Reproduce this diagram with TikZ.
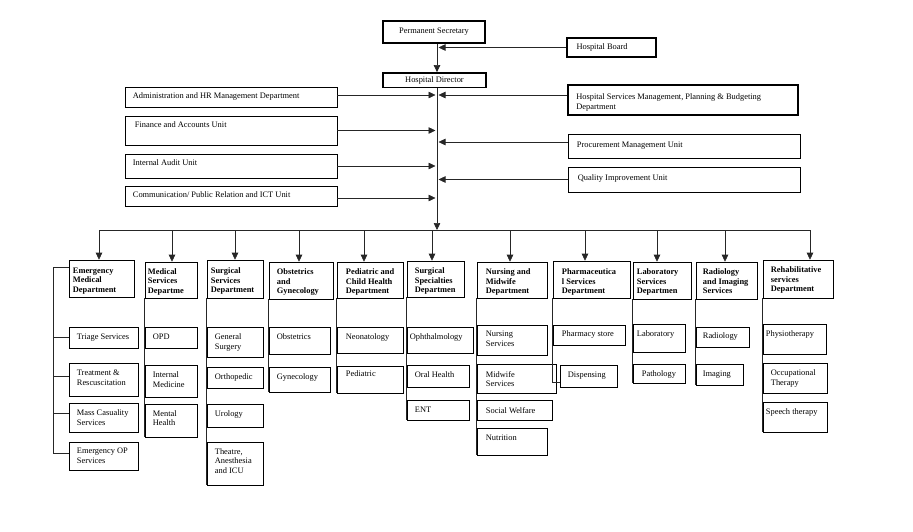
\documentclass[tikz,border=0pt]{standalone}
\usepackage{fontspec}
\setmainfont{Liberation Serif}
\usetikzlibrary{arrows.meta,fit}
\tikzset{
 box/.style={draw=black, line width=0.6pt, inner sep=0pt, fill=white},
 txt/.style={anchor=north west, inner sep=0pt, align=left, font=\fontsize{8.4}{9.8}\selectfont},
 btxt/.style={txt, font=\fontsize{8.4}{9.6}\selectfont\bfseries},
 conn/.style={line width=0.6pt, draw=black!85},
 arr/.style={conn, -{Triangle[length=7pt,width=6.5pt]}},
}
% #1 text style, #2 name, #3-#6 corners, #7 x pad, #8 y pad, #9 text
\newcommand\bx[9][txt]{%
 \node[box,fit={(#3,#4)(#5,#6)}] (#2) {};
 \node[#1] (#2-t) at ([xshift=#7pt,yshift=-#8pt]#2.north west) {#9};
}
\begin{document}
\begin{tikzpicture}[x=1pt,y=-1pt]
\fill[white] (0,0) rectangle (913,531);
\useasboundingbox (0,0) rectangle (913,531);

% top
\node[box, line width=2pt, fit={(383,21)(485,43)}] (ps) {};
\node[txt, anchor=center] (ps-t) at (ps.center) {Permanent Secretary};
\node[box, line width=1.8pt, fit={(383,73)(486,87.5)}] (hd) {};
\node[txt, anchor=center] (hd-t) at (hd.center) {Hospital Director};
\node[box, line width=1.4pt, fit={(567,38)(656,57)}] (hb) {};
\node[txt] (hb-t) at ([xshift=10pt,yshift=-6.2pt]hb.north west) {Hospital Board};
\node[box, line width=1.8pt, fit={(568,85)(798,115)}] (hsm) {};
\node[txt] (hsm-t) at ([xshift=9pt,yshift=-9.2pt]hsm.north west) {Hospital Services Management, Planning \& Budgeting\\Department};

\bx{adm}{125}{87}{337}{107}{8}{5.3}{Administration and HR Management Department}
\bx{fin}{125}{116}{337}{145}{10}{6.2}{Finance and Accounts Unit}
\bx{aud}{125}{154}{337}{178}{8}{6.2}{Internal Audit Unit}
\bx{com}{125}{186}{337}{206}{8}{6.2}{Communication/ Public Relation and ICT Unit}
\bx{pro}{568}{134}{800}{158}{9}{8.2}{Procurement Management Unit}
\bx{qua}{568}{167}{800}{192}{10}{8.2}{Quality Improvement Unit}

% departments
\bx[btxt]{em}{69}{260}{134}{297}{4}{7.8}{Emergency\\Medical\\Department}
\bx[btxt]{med}{145}{262}{197}{298}{3}{6.3}{Medical\\Services\\Departme}
\bx[btxt]{sur}{207}{260}{263}{298}{4}{7.8}{Surgical\\Services\\Department}
\bx[btxt]{obs}{269}{262}{333}{299}{8}{6.8}{Obstetrics\\and\\Gynecology}
\bx[btxt]{ped}{337}{262}{403}{298}{9}{6.8}{Pediatric and\\Child Health\\Department}
\bx[btxt]{ssp}{407}{261}{464}{297}{8}{6.8}{Surgical\\Specialties\\Departmen}
\bx[btxt]{nur}{477}{262}{547}{298}{9}{6.8}{Nursing and\\Midwife\\Department}
\bx[btxt]{pha}{553}{261}{630}{298}{9}{7.8}{Pharmaceutica\\l Services\\Department}
\bx[btxt]{lab}{633}{262}{691}{299}{4}{6.8}{Laboratory\\Services\\Departmen}
\bx[btxt]{rad}{696}{262}{757}{299}{7}{6.8}{Radiology\\and Imaging\\Services}
\bx[btxt]{reh}{763}{260}{833}{298}{8}{6.8}{Rehabilitative\\services\\Department}

% sub units
\bx{tri}{69}{327}{138}{348}{8}{7}{Triage Services}
\bx{trt}{69}{363}{138}{396}{8}{7}{Treatment \&\\Rescuscitation}
\bx{mas}{69}{403}{138}{432}{8}{7}{Mass Casuality\\Services}
\bx{eop}{69}{442}{138}{470}{8}{6.4}{Emergency OP\\Services}

\bx{opd}{145}{327}{197}{348}{8}{7}{OPD}
\bx{im}{145}{365}{197}{397}{8}{7}{Internal\\Medicine}
\bx{mh}{145}{404}{197}{437}{8}{6.4}{Mental\\Health}

\bx{gs}{207}{327}{263}{357}{8}{7}{General\\Surgery}
\bx{ort}{207}{367}{263}{388}{8}{7}{Orthopedic}
\bx{uro}{207}{404}{263}{427}{8}{6.4}{Urology}
\bx{thr}{207}{442}{263}{485}{8}{6.4}{Theatre,\\Anesthesia\\and ICU}

\bx{ob}{269}{327}{330}{354}{8}{7}{Obstetrics}
\bx{gy}{269}{367}{330}{392}{8}{7}{Gynecology}

\bx{neo}{337}{327}{403}{353}{9}{6.4}{Neonatology}
\bx{pe}{337}{366}{403}{393}{9}{5.2}{Pediatric}

\bx{oph}{407}{327}{473}{353}{3}{7}{Ophthalmology}
\bx{oh}{407}{365}{469}{387}{8}{7.2}{Oral Health}
\bx{ent}{407}{400}{469}{420}{8}{7.2}{ENT}

\bx{ns}{477}{325}{547}{355}{9}{6.2}{Nursing\\Services}
\bx{mw}{477}{364}{556}{393}{9}{7.2}{Midwife\\Services}
\bx{sw}{477}{400}{552}{420}{9}{7.2}{Social Welfare}
\bx{nut}{477}{428}{547}{455}{9}{7.2}{Nutrition}

\bx{pst}{553}{325}{625}{345}{9}{6.2}{Pharmacy store}
\bx{dis}{560}{365}{617}{387}{8}{7.2}{Dispensing}

\bx{lb}{633}{324}{685}{352}{4}{7.2}{Laboratory}
\bx{pat}{633}{364}{685}{383}{9}{7.2}{Pathology}

\bx{rd}{696}{327}{749}{347}{7}{6.2}{Radiology}
\bx{img}{696}{364}{743}{385}{7}{7.2}{Imaging}

\bx{phy}{763}{324}{826}{354}{3}{7.2}{Physiotherapy}
\bx{occ}{763}{363}{827}{393}{8}{6.8}{Occupational\\Therapy}
\bx{spt}{763}{402}{827}{432}{3}{6.8}{Speech therapy}

% connectors: top
\coordinate (sp) at (437,0);
\coordinate (hubL) at (99,230);
\coordinate (hubR) at (810,230);
\draw[arr] (ps.south -| sp) -- (hd.north -| sp);
\draw[arr] (hb.west) -- ([xshift=1.5pt]hb.west -| sp);
\draw[arr] (hd.south -| sp) -- (hubL -| sp);
\draw[arr] ([yshift=2pt]adm.east) -- ([xshift=-1.5pt,yshift=2pt]adm.east -| sp);
\draw[arr] (fin.east) -- ([xshift=-1.5pt]fin.east -| sp);
\draw[arr] (aud.east) -- ([xshift=-1.5pt]aud.east -| sp);
\draw[arr] ([yshift=-2pt]com.east) -- ([xshift=-1.5pt,yshift=-2pt]com.east -| sp);
\draw[arr] ([yshift=5pt]hsm.west) -- ([xshift=1.5pt,yshift=5pt]hsm.west -| sp);
\draw[arr] ([yshift=4pt]pro.west) -- ([xshift=1.5pt,yshift=4pt]pro.west -| sp);
\draw[arr] (qua.west) -- ([xshift=1.5pt]qua.west -| sp);

% hub to departments
\draw[conn] (hubL) -- (hubR);
\foreach \x/\n in {99/em,172/med,235/sur,299/obs,364/ped,432/ssp,510/nur,585/pha,657/lab,725/rad,810/reh}
  \draw[arr] (\x,230) -- (\n.north -| \x,0);

% emergency bracket
\draw[conn] ([yshift=-8pt]em.north west) -- ++(-15,0) |- ([yshift=3pt]eop.west);
\draw[conn] (tri.west) -- ++(-15,0);
\draw[conn] ([yshift=3.5pt]trt.west) -- ++(-15,0);
\draw[conn] ([yshift=4.5pt]mas.west) -- ++(-15,0);

% column spines
\draw[conn] (med.south west) -- (mh.south west);
\draw[conn] (sur.south west) -- (thr.south west);
\draw[conn] (obs.south west) -- (gy.south west);
\draw[conn] (ped.south west) -- (pe.south west);
\draw[conn] (ssp.south west) -- (ent.south west);
\draw[conn] (nur.south west) -- (nut.south west);
\draw[conn] (pha.south west) |- ([yshift=-6pt]dis.west);
\draw[conn] (lab.south west) -- (pat.south west);
\draw[conn] (rad.south west) -- (img.south west);
\draw[conn] (reh.south west) -- (spt.south west);
\end{tikzpicture}
\end{document}
